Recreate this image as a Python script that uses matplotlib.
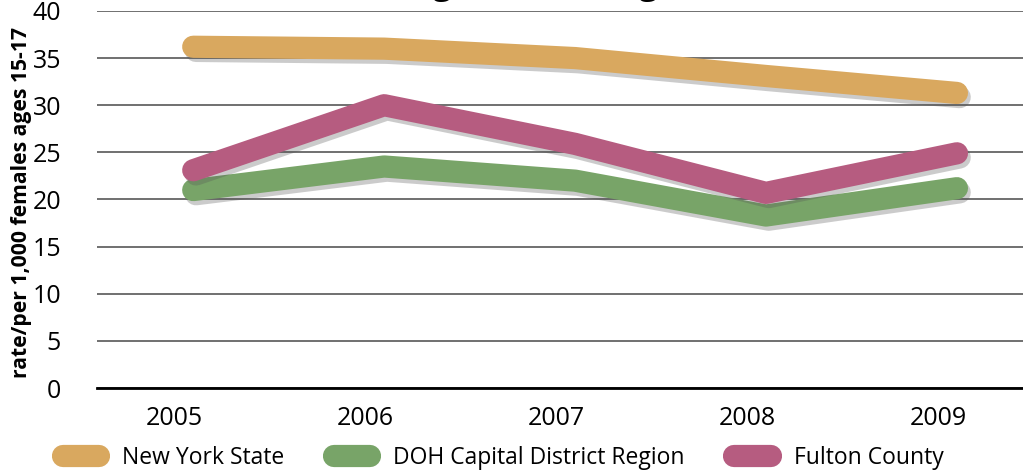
import matplotlib
matplotlib.use("Agg")
import matplotlib.pyplot as plt
import matplotlib.patheffects as pe
import matplotlib.transforms as mtransforms
from matplotlib.lines import Line2D

plt.rcParams["font.family"] = ["Open Sans", "DejaVu Sans"]

# data
years = [2005, 2006, 2007, 2008, 2009]
new_york_state = [36.2, 36.0, 35.0, 33.1, 31.3]
doh_capital = [21.0, 23.5, 22.0, 18.3, 21.2]
fulton_county = [23.1, 30.0, 25.9, 20.7, 24.9]

series_names = ["New York State", "DOH Capital District Region", "Fulton County"]
series_colors = ["#d9a85f", "#78a468", "#b65c80"]
y_ticks = [0, 5, 10, 15, 20, 25, 30, 35, 40]
y_label = "rate/per 1,000 females ages 15-17"
title = "Teen Birth Rate Among Females, Ages 15-17, Fulton County"

fig = plt.figure(figsize=(10.23, 4.75), dpi=100)
ax = fig.add_axes([0.095, 0.183, 0.905, 0.794])

shadow = [pe.SimpleLineShadow(offset=(2, -3), shadow_color="#555555", alpha=0.3),
          pe.Normal()]
for vals, col in zip([new_york_state, doh_capital, fulton_county], series_colors):
    ax.plot(years, vals, color=col, lw=16, solid_capstyle="round",
            solid_joinstyle="round", path_effects=shadow, zorder=3)

ax.set_xlim(2004.497, 2009.346)
ax.set_ylim(0, 40)
ax.set_yticks(y_ticks)
ax.set_xticks(years)
ax.grid(axis="y", color="#707070", lw=1.4, zorder=1)
ax.tick_params(length=0, labelsize=18)
ax.tick_params(axis="y", pad=26)
ax.tick_params(axis="x", pad=13)
# year labels sit a little left of the line vertices in the reference
shift = mtransforms.ScaledTranslation(-19 / 100, 0, fig.dpi_scale_trans)
for lab in ax.get_xticklabels():
    lab.set_transform(lab.get_transform() + shift)
for s in ["top", "right", "left"]:
    ax.spines[s].set_visible(False)
ax.spines["bottom"].set_color("black")
ax.spines["bottom"].set_linewidth(2)
ax.spines["bottom"].set_zorder(2)

fig.text(0.021, 0.573, y_label, rotation=90, fontsize=15.2, fontweight="bold",
         ha="center", va="center")

# title is cut off at the top edge in the reference; only descenders show
fig.text(0.068, 1.013, title, fontsize=24, fontweight="bold", ha="left", va="baseline")

handles = [Line2D([0], [0], color=c, lw=16, solid_capstyle="round") for c in series_colors]
fig.legend(handles, series_names, loc="center left", bbox_to_anchor=(0.041, 0.036),
           ncol=3, frameon=False, fontsize=16.5, handlelength=1.6, handletextpad=1.0,
           columnspacing=2.15)

fig.savefig("out.png", dpi=100)
